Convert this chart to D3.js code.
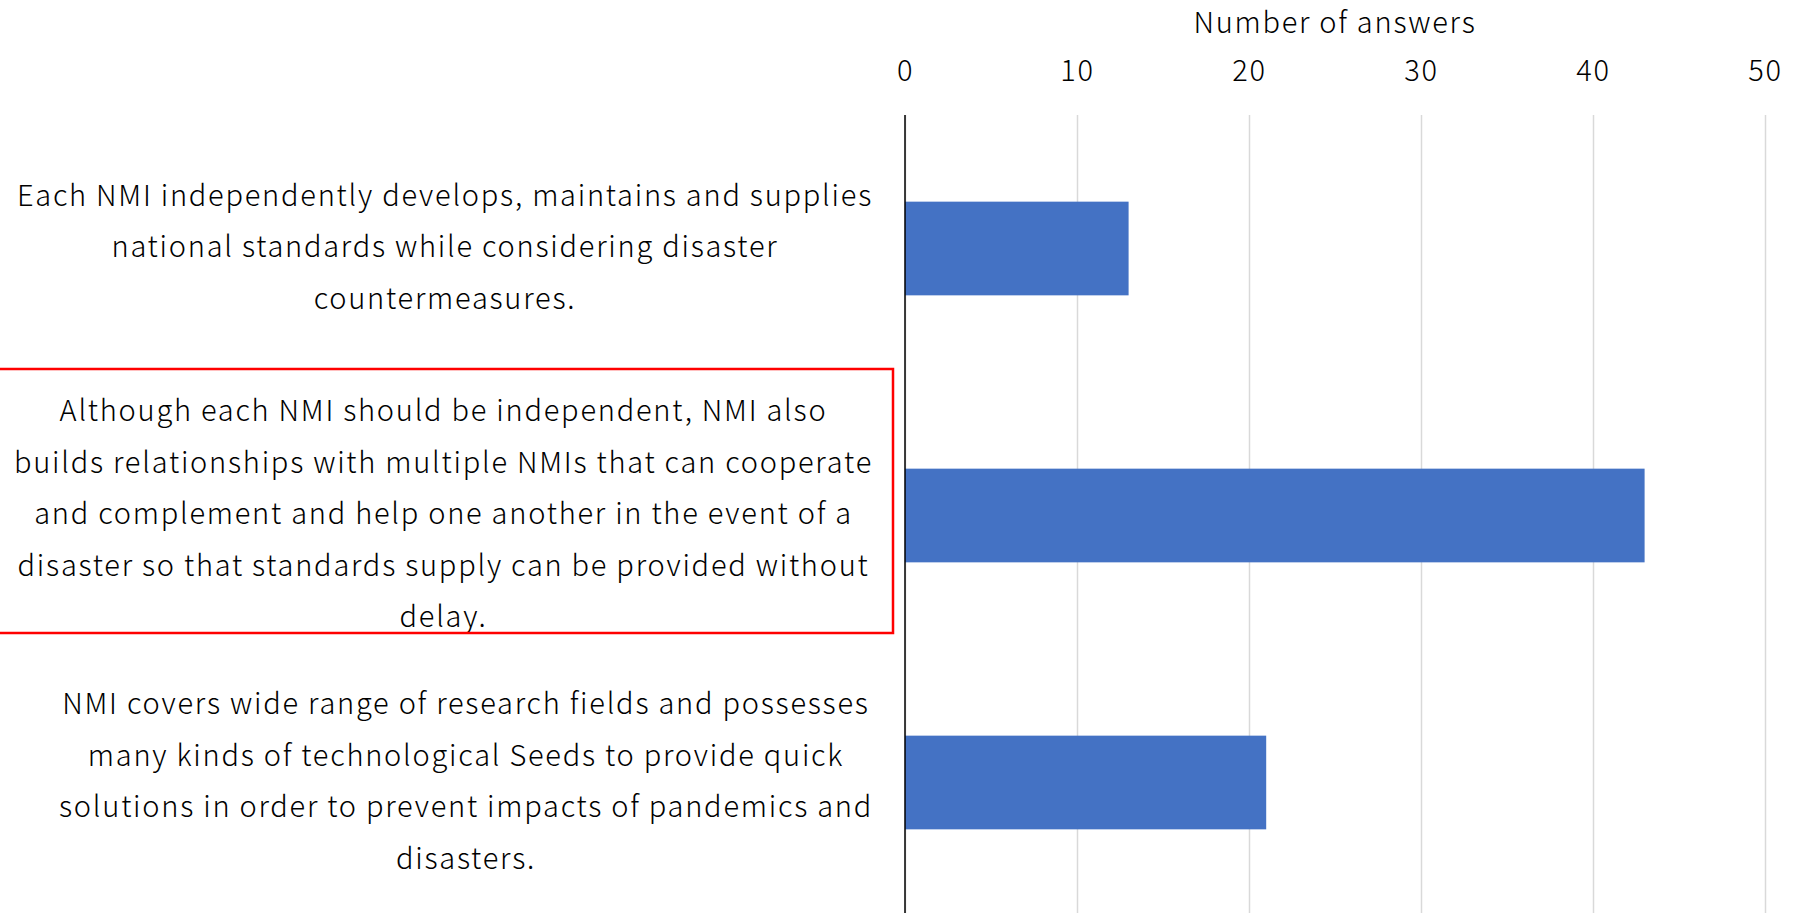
<!DOCTYPE html>
<html>
<head>
    <script src="https://d3js.org/d3.v7.min.js"></script>
    <style>
        body { margin: 0; background: #fff; }
        text { font-family: "Noto Sans CJK JP", "Noto Sans", sans-serif; font-weight: 300; fill: #000; letter-spacing: 1.75px; }
    </style>
</head>
<body>
    <svg id="chart" width="1796" height="913"></svg>

    <script>
        // data
        var categories = [
            "Each NMI independently develops, maintains and supplies national standards while considering disaster countermeasures.",
            "Although each NMI should be independent, NMI also builds relationships with multiple NMIs that can cooperate and complement and help one another in the event of a disaster so that standards supply can be provided without delay.",
            "NMI covers wide range of research fields and possesses many kinds of technological Seeds to provide quick solutions in order to prevent impacts of pandemics and disasters."
        ];
        var labelLines = [
            ["Each NMI independently develops, maintains and supplies", "national standards while considering disaster", "countermeasures."],
            ["Although each NMI should be independent, NMI also", "builds relationships with multiple NMIs that can cooperate", "and complement and help one another in the event of a", "disaster so that standards supply can be provided without", "delay."],
            ["NMI covers wide range of research fields and possesses", "many kinds of technological Seeds to provide quick", "solutions in order to prevent impacts of pandemics and", "disasters."]
        ];
        var answers = [13, 43, 21];
        var xTicks = [0, 10, 20, 30, 40, 50];
        var axisTitle = "Number of answers";
        var highlighted = 1;

        var svg = d3.select("#chart");
        var plotLeft = 905, plotRight = 1765, plotTop = 115, plotBottom = 916;
        var fontSize = 29, lineH = 51.5;

        var xScale = d3.scaleLinear().domain([0, 50]).range([plotLeft, plotRight]);
        var yScale = d3.scaleBand().domain(categories).range([plotTop, plotBottom])
            .paddingInner(1.85 / 2.85).paddingOuter(1.85 / 2.85 / 2);

        // gridlines
        svg.append("g").attr("transform", `translate(0,${plotTop})`)
            .call(d3.axisTop(xScale).tickValues(xTicks).tickSize(-(plotBottom - plotTop)).tickFormat(""))
            .call(g => g.select(".domain").remove())
            .call(g => g.selectAll("line").attr("stroke", "#d9d9d9").attr("stroke-width", 1.5));

        // bars
        svg.selectAll("rect.bar")
            .data(answers)
            .enter()
            .append("rect")
            .attr("class", "bar")
            .attr("x", xScale(0))
            .attr("y", (d, i) => yScale(categories[i]))
            .attr("width", d => xScale(d) - xScale(0))
            .attr("height", yScale.bandwidth())
            .attr("fill", "#4472c4");

        // zero line
        svg.append("line").attr("x1", xScale(0)).attr("x2", xScale(0)).attr("y1", plotTop).attr("y2", plotBottom)
            .attr("stroke", "#000").attr("stroke-width", 1.5);

        // top axis labels
        svg.append("g").attr("transform", `translate(0,${plotTop})`)
            .call(d3.axisTop(xScale).tickValues(xTicks).tickSize(0).tickPadding(34))
            .call(g => g.select(".domain").remove())
            .call(g => g.selectAll("text").style("font-size", fontSize + "px").attr("font-family", null).attr("fill", null));

        svg.append("text").attr("x", (plotLeft + plotRight) / 2).attr("y", 23).attr("dy", "0.35em")
            .attr("text-anchor", "middle").style("font-size", fontSize + "px").text(axisTitle);

        // category labels, lines centred in a block that is right-aligned
        var labelRight = 873;
        categories.forEach(function (c, i) {
            var lines = labelLines[i];
            var cy = yScale(c) + yScale.bandwidth() / 2;
            var g = svg.append("g");
            var texts = g.selectAll("text").data(lines).enter().append("text")
                .attr("y", (d, j) => cy + (j - (lines.length - 1) / 2) * lineH)
                .attr("dy", "0.31em")
                .attr("text-anchor", "middle")
                .style("font-size", fontSize + "px")
                .text(d => d);
            var maxW = d3.max(texts.nodes(), n => n.getComputedTextLength());
            texts.attr("x", labelRight - maxW / 2);

            if (i === highlighted) {
                var y0 = cy - (lines.length - 1) / 2 * lineH - 43.5;
                var y1 = cy + (lines.length - 1) / 2 * lineH + 14.5;
                svg.append("rect").attr("x", -2).attr("y", y0).attr("width", 895).attr("height", y1 - y0)
                    .attr("fill", "none").attr("stroke", "#ff0000").attr("stroke-width", 2.5);
            }
        });
    </script>
</body>
</html>
